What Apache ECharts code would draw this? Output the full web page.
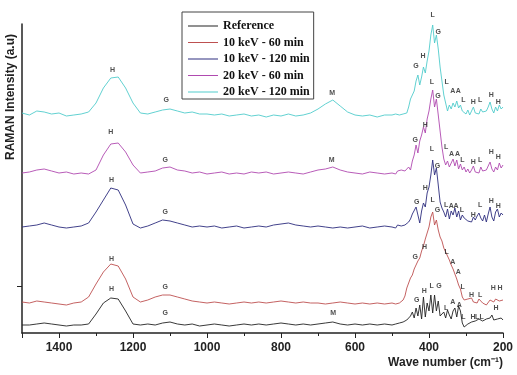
<!DOCTYPE html>
<html>
<head>
<meta charset="utf-8">
<script src="https://cdn.jsdelivr.net/npm/echarts@6/dist/echarts.min.js"></script>
<style>
  html, body { margin: 0; padding: 0; background: #fff; }
  #chart { width: 517px; height: 375px; }
</style>
</head>
<body>
<div id="chart"></div>
<script>
// wave numbers (cm-1), shared by all spectra
const waves = [
  1500, 1480, 1460, 1440, 1420, 1400, 1380, 1360, 1340, 1320,
  1300, 1280, 1260, 1240, 1220, 1200, 1180, 1160, 1140, 1120,
  1100, 1080, 1060, 1040, 1020, 1000, 980, 960, 940, 920,
  900, 880, 860, 840, 820, 800, 780, 760, 740, 720,
  700, 680, 660, 640, 620, 600, 580, 560, 540, 520,
  500, 495, 490, 485, 480, 475, 470, 465, 460, 455,
  450, 445, 440, 435, 430, 425, 420, 415, 410, 405,
  400, 395, 390, 385, 380, 375, 370, 365, 360, 355,
  350, 345, 340, 335, 330, 325, 320, 315, 310, 305,
  300, 295, 290, 285, 280, 275, 270, 265, 260, 255,
  250, 245, 240, 235, 230, 225, 220, 215, 210, 205,
  200
]

// stacked spectra (a.u., offset as drawn)
const reference = [
  8, 8, 9, 10, 9, 8, 7, 8, 8, 9,
  19, 30, 35, 34, 22, 9, 8, 9, 8, 10,
  11, 9, 8, 9, 7, 8, 9, 8, 7, 8,
  9, 8, 9, 8, 9, 10, 9, 8, 9, 8,
  9, 10, 11, 9, 8, 9, 8, 9, 8, 9,
  8, 7, 9, 8, 10, 9, 11, 10, 13, 12,
  17, 21, 15, 25, 17, 28, 14, 36, 16, 30,
  22, 38, 20, 38, 22, 32, 17, 16, 21, 15,
  23, 18, 14, 22, 25, 16, 27, 22, 10, 6,
  4, 9, 7, 11, 9, 12, 10, 14, 16, 12,
  11, 14, 12, 15, 18, 13, 11, 14, 12, 15,
  13
]
const kev10min60 = [
  31, 30, 32, 31, 30, 29, 28, 30, 31, 36,
  49, 61, 69, 67, 54, 36, 31, 33, 36, 38,
  38, 36, 34, 32, 31, 30, 31, 30, 29, 30,
  31, 30, 31, 30, 31, 32, 31, 30, 31, 30,
  30, 29, 30, 31, 30, 29, 30, 29, 30, 29,
  30, 31, 29, 31, 30, 32, 33, 37, 45, 50,
  55, 58, 64, 62, 72, 75, 82, 87, 94, 100,
  106, 116, 121, 108, 113, 103, 96, 92, 85, 83,
  77, 73, 68, 64, 59, 54, 48, 44, 36, 33,
  31, 34, 32, 35, 31, 33, 30, 34, 32, 30,
  31, 28, 30, 33, 35, 31, 34, 36, 32, 34,
  33
]
const kev10min120 = [
  106, 107, 108, 110, 108, 106, 105, 106, 107, 110,
  121, 133, 145, 143, 128, 109, 105, 107, 110, 113,
  112, 110, 108, 106, 107, 106, 107, 105, 106, 107,
  105, 106, 107, 106, 108, 109, 110, 108, 107, 106,
  107, 106, 105, 106, 105, 106, 107, 105, 106, 107,
  106, 107, 105, 108, 106, 107, 105, 108, 107, 111,
  114, 119, 117, 126, 128, 110, 122, 130, 126, 140,
  146, 158, 173, 158, 165, 148, 131, 125, 121, 116,
  124, 114, 122, 118, 125, 116, 122, 113, 118, 115,
  117, 112, 114, 111, 116, 113, 117, 120, 115, 112,
  118, 111, 119, 126, 116, 112, 121, 124, 116, 120,
  118
]
const kev20min60 = [
  160, 161, 163, 164, 162, 160, 161, 159, 160, 159,
  163, 178, 189, 190, 181, 168, 160, 161, 162, 165,
  166, 163, 162, 160, 161, 159, 160, 161, 159, 160,
  159, 161, 160, 161, 159, 160, 161, 160, 159, 161,
  163, 164, 166, 163, 161, 160, 159, 161, 160, 159,
  160, 161, 159, 162, 160, 163, 161, 162, 161, 166,
  163, 172, 178, 188, 180, 192, 198, 206, 200, 214,
  222, 234, 243, 226, 234, 218, 202, 186, 174, 168,
  172, 166, 170, 174, 167, 173, 164, 169, 163, 166,
  161, 164, 160, 163, 167, 161, 163, 160, 166, 162,
  160, 163, 167, 171, 164, 161, 166, 163, 170, 165,
  168
]
const kev20min120 = [
  220, 218, 222, 221, 219, 220, 217, 218, 219, 221,
  230, 245, 255, 256, 245, 230, 220, 219, 221, 223,
  224, 222, 220, 221, 219, 219, 218, 219, 217, 218,
  219, 217, 218, 216, 218, 217, 219, 217, 218, 220,
  224, 229, 233, 227, 221, 218, 217, 218, 216, 218,
  218, 217, 219, 218, 218, 219, 219, 221, 220, 226,
  234, 236, 242, 252, 258, 248, 256, 266, 260, 272,
  282, 298, 308, 290, 298, 284, 266, 252, 238, 230,
  222, 228, 224, 230, 226, 232, 225, 228, 222, 224,
  219, 223, 218, 222, 226, 220, 222, 219, 224, 221,
  219, 222, 226, 231, 224, 220, 226, 222, 228, 224,
  226
]

const seriesNames = ['Reference', '10 keV - 60 min', '10 keV - 120 min', '20 keV - 60 min', '20 keV - 120 min']
const seriesValues = [reference, kev10min60, kev10min120, kev20min60, kev20min120]
const seriesColors = ['#222222', '#bd5050', '#2c2c7e', '#b04ab0', '#50cccc']

// peak assignments: [wave number, height, letter]
const peakLabels = [
  // 20 keV - 120 min
  [1255, 263, 'H'], [1110, 233, 'G'], [662, 240, 'M'], [435, 267, 'G'], [416, 277, 'H'],
  [390, 318, 'L'], [375, 301, 'G'], [352, 251, 'L'], [336, 242, 'A'], [321, 242, 'A'],
  [307, 233, 'L'], [280, 231, 'H'], [262, 233, 'L'], [232, 238, 'H'], [213, 231, 'H'],
  // 20 keV - 60 min
  [1260, 201, 'H'], [1113, 173, 'G'], [663, 173, 'M'], [437, 193, 'G'], [410, 208, 'H'],
  [392, 251, 'L'], [376, 237, 'G'], [354, 186, 'L'], [339, 179, 'A'], [323, 179, 'A'],
  [310, 173, 'L'], [280, 171, 'H'], [262, 173, 'L'], [232, 181, 'H'], [213, 176, 'H'],
  // 10 keV - 120 min
  [1258, 153, 'H'], [1113, 121, 'G'], [433, 131, 'G'], [410, 145, 'H'], [392, 184, 'L'],
  [377, 167, 'G'], [354, 128, 'L'], [340, 127, 'A'], [327, 127, 'A'], [311, 123, 'L'],
  [280, 118, 'H'], [262, 128, 'L'], [232, 132, 'H'], [213, 127, 'H'],
  // 10 keV - 60 min
  [1258, 74, 'H'], [1113, 46, 'G'], [437, 76, 'G'], [412, 86, 'H'], [390, 133, 'L'],
  [377, 123, 'G'], [352, 81, 'L'], [336, 71, 'A'], [321, 61, 'A'], [309, 46, 'L'],
  [285, 38, 'H'], [262, 38, 'L'], [226, 45, 'H'], [208, 45, 'H'],
  // Reference
  [1258, 44, 'H'], [1113, 20, 'G'], [659, 20, 'M'], [433, 33, 'G'], [413, 42, 'H'],
  [393, 47, 'L'], [373, 47, 'G'], [354, 25, 'L'], [336, 31, 'A'], [318, 28, 'A'],
  [307, 16, 'L'], [281, 16, 'H'], [270, 16, 'L'], [258, 16, 'L'], [219, 25, 'H']
]

const yTicks = [47]

const chart = echarts.init(document.getElementById('chart'))

const lineSeries = seriesNames.map((name, k) => {
  return {
    name: name,
    type: 'line',
    showSymbol: false,
    symbol: 'none',
    color: seriesColors[k],
    lineStyle: { width: 0.9, color: seriesColors[k] },
    data: waves.map((w, i) => [w, seriesValues[k][i]]),
    z: 2 + k
  }
})

chart.setOption({
  animation: false,
  grid: { left: 22, right: 14, top: 24, bottom: 42 },
  legend: {
    data: seriesNames,
    orient: 'vertical',
    left: 182,
    top: 12,
    icon: 'rect',
    itemWidth: 30,
    itemHeight: 1,
    itemGap: 4.5,
    padding: [8, 4, 1, 6],
    borderColor: '#444',
    borderWidth: 1,
    backgroundColor: '#fff',
    textStyle: {
      fontFamily: 'Liberation Serif',
      fontWeight: 'bold',
      fontSize: 12,
      lineHeight: 12,
      color: '#111'
    }
  },
  xAxis: {
    type: 'value',
    inverse: true,
    min: 200,
    max: 1500,
    interval: 200,
    splitLine: { show: false },
    axisLine: { lineStyle: { color: '#222', width: 1.5 } },
    axisTick: { length: 5, lineStyle: { color: '#222', width: 1 } },
    minorTick: { show: true, splitNumber: 2, length: 3, lineStyle: { color: '#222' } },
    axisLabel: {
      margin: 9,
      fontFamily: 'Liberation Sans',
      fontWeight: 'bold',
      fontSize: 12,
      color: '#222',
      formatter: v => (v === 1500 ? '' : String(v))
    }
  },
  yAxis: {
    type: 'value',
    min: 0,
    max: 309,
    splitLine: { show: false },
    axisLine: { show: true, lineStyle: { color: '#222', width: 1.5 } },
    axisTick: { show: true, customValues: yTicks, length: 5, lineStyle: { color: '#222' } },
    axisLabel: { show: false }
  },
  graphic: [
    {
      type: 'text',
      x: 11,
      y: 97,
      rotation: Math.PI / 2,
      style: {
        text: 'RAMAN Intensity (a.u)',
        fontFamily: 'Liberation Sans',
        fontWeight: 'bold',
        fontSize: 12,
        fill: '#222',
        align: 'center',
        verticalAlign: 'middle'
      }
    },
    {
      type: 'text',
      x: 503,
      y: 363,
      style: {
        text: 'Wave number (cm⁻¹)',
        fontFamily: 'Liberation Sans',
        fontWeight: 'bold',
        fontSize: 12,
        fill: '#222',
        align: 'right',
        verticalAlign: 'middle'
      }
    }
  ],
  series: lineSeries.concat([
    {
      name: 'peaks',
      type: 'scatter',
      symbol: 'circle',
      symbolSize: 1,
      clip: false,
      itemStyle: { color: 'rgba(0,0,0,0)' },
      silent: true,
      z: 10,
      data: peakLabels,
      label: {
        show: true,
        position: 'inside',
        formatter: p => p.value[2],
        fontFamily: 'Liberation Sans',
        fontWeight: 'bold',
        fontSize: 7,
        color: '#222'
      }
    }
  ])
})
</script>
</body>
</html>
